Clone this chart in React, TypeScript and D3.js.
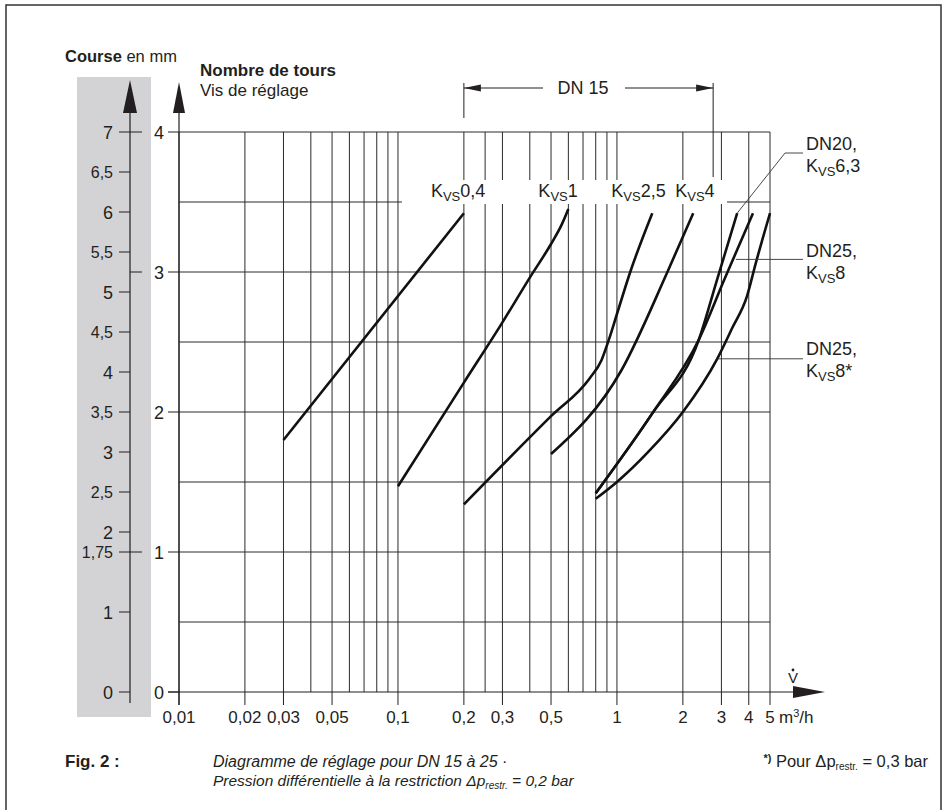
import React from "react";
import * as d3 from "d3";

// flow axis (m³/h, log)
const flowGrid = [0.01, 0.02, 0.03, 0.04, 0.05, 0.06, 0.07, 0.08, 0.09, 0.1, 0.2, 0.25, 0.3, 0.4, 0.5, 0.6, 0.7, 0.8, 0.9, 1, 2, 3, 4, 5];
const flowTicks = [0.01, 0.02, 0.03, 0.05, 0.1, 0.2, 0.3, 0.5, 1, 2, 3, 4, 5];
const flowTickLabels = ["0,01", "0,02", "0,03", "0,05", "0,1", "0,2", "0,3", "0,5", "1", "2", "3", "4", "5"];

// turns of the adjusting screw
const turnsGrid = [0.5, 1, 1.5, 2, 2.5, 3, 3.5, 4];
const turnsTicks = [0, 1, 2, 3, 4];

// travel in mm
const courseTicks = [7, 6.5, 6, 5.5, 5, 4.5, 4, 3.5, 3, 2.5, 2, 1.75, 1, 0];
const courseLabels = ["7", "6,5", "6", "5,5", "5", "4,5", "4", "3,5", "3", "2,5", "2", "1,75", "1", "0"];
const courseMajor = [7, 6, 5, 4, 3, 2, 1, 0];

// curves: [flow, turns]
const kvs04 = [[0.03, 1.8], [0.2, 3.42]];
const kvs1 = [[0.1, 1.47], [0.2, 2.21], [0.3, 2.64], [0.4, 2.96], [0.5, 3.2], [0.56, 3.34], [0.6, 3.45]];
const kvs25 = [[0.2, 1.34], [0.5, 1.97], [0.75, 2.24], [0.85, 2.37], [0.92, 2.52], [1, 2.7], [1.15, 3.0], [1.45, 3.42]];
const kvs4 = [[0.5, 1.7], [1.05, 2.3], [1.7, 3.0], [2.23, 3.42]];
const dn20kvs63 = [[0.8, 1.42], [1.45, 1.99], [2.37, 2.52], [2.86, 2.94], [3.54, 3.42]];
const dn25kvs8 = [[0.8, 1.42], [1.45, 1.99], [2.37, 2.52], [3.1, 2.95], [4.18, 3.42]];
const dn25kvs8s = [[0.8, 1.38], [1, 1.5], [1.4, 1.72], [2, 2.0], [2.87, 2.38], [3.36, 2.6], [3.93, 2.83], [4.3, 3.06], [5, 3.42]];

const topLabels = ["0,4", "1", "2,5", "4"];
const topCurves = [kvs04, kvs1, kvs25, kvs4];
const sideLabels = [["DN20,", "6,3"], ["DN25,", "8"], ["DN25,", "8*"]];
const sideCurves = [dn20kvs63, dn25kvs8, dn25kvs8s];
const dn15Range = [0.2, 2.75];

const font = "'Liberation Sans', Arial, sans-serif";
const ink = "#231f20";

export default function App() {
  const x = d3.scaleLog().domain([0.01, 5]).range([179, 770]);
  const y = d3.scaleLinear().domain([0, 4]).range([692, 132]);
  const yc = d3.scaleLinear().domain([0, 7]).range([692, 132]);
  const line = d3.line<number[]>()
    .x(d => x(d[0]))
    .y(d => y(d[1]))
    .curve(d3.curveMonotoneX);

  const topLabelShift = [33, 30, 41, 18];
  const sideLabelY = [150, 257, 355];
  // where the thin leader lines touch the curves
  const leaderTouch = [dn20kvs63[dn20kvs63.length - 1], [3.49, 3.09], [2.87, 2.38]];

  return (
    <div style={{ position: "absolute", left: 0, top: 0 }}>
      <svg width={945} height={810} style={{ display: "block", fontFamily: font }}>
        <rect x={0} y={0} width={945} height={810} fill="#fff" />
        <rect x={6} y={5} width={935} height={830} fill="none" stroke="#333" strokeWidth={1.5} />

        {/* travel axis */}
        <rect x={77} y={77} width={74} height={640} fill="#d3d3d5" />
        <line x1={130} x2={130} y1={110} y2={703} stroke={ink} strokeWidth={1.2} />
        <path d="M130,80 L137,113 L123,113 Z" fill={ink} />
        {courseTicks.map((v, i) => {
          const major = courseMajor.includes(v);
          const long = v === 7 || v === 1.75;
          return (
            <g key={"c" + i}>
              <line x1={119} x2={long ? 142 : 130} y1={yc(v)} y2={yc(v)} stroke={ink} strokeWidth={1} />
              <text x={113} y={yc(v) + (major ? 6.5 : 5.5)} textAnchor="end" fontSize={major ? 18 : 16} fill={ink}>{courseLabels[i]}</text>
            </g>
          );
        })}
        <line x1={130} x2={142} y1={yc(5.25)} y2={yc(5.25)} stroke={ink} strokeWidth={1} />
        <text x={65} y={62} fontSize={16.5} fill={ink}>
          <tspan fontWeight="bold">Course</tspan> en mm
        </text>

        {/* grid */}
        {flowGrid.map((v, i) => (
          <line key={"gx" + i} x1={x(v)} x2={x(v)} y1={y(4)} y2={y(0)} stroke="#2a2a2a" strokeWidth={1} />
        ))}
        {turnsGrid.map((v, i) => (
          <line key={"gy" + i} x1={x(0.01)} x2={x(5)} y1={y(v)} y2={y(v)} stroke="#2a2a2a" strokeWidth={1} />
        ))}
        {/* label band */}
        <rect x={402} y={180} width={325} height={24} fill="#fff" />

        {/* curves */}
        {[...topCurves, ...sideCurves].map((c, i) => (
          <path key={"k" + i} d={line(c) || ""} fill="none" stroke="#111" strokeWidth={2.6} strokeLinecap="butt" strokeLinejoin="round" />
        ))}

        {/* top curve labels */}
        {topCurves.map((c, i) => {
          const end = c[c.length - 1];
          return (
            <text key={"tl" + i} x={x(end[0]) - topLabelShift[i]} y={197} fontSize={18} fill={ink}>
              K<tspan fontSize={13} dy={4}>VS</tspan><tspan dy={-4}>{topLabels[i]}</tspan>
            </text>
          );
        })}

        {/* side labels and leaders */}
        {sideCurves.map((c, i) => {
          const t = leaderTouch[i];
          const ly = i === 0 ? 153 : y(t[1]);
          const pts = i === 0
            ? `${x(t[0])},${y(t[1])} 785,${ly} 803,${ly}`
            : `${x(t[0])},${ly} 803,${ly}`;
          return (
            <g key={"sl" + i}>
              <polyline points={pts} fill="none" stroke="#333" strokeWidth={0.9} />
              <text x={806} y={sideLabelY[i]} fontSize={18} fill={ink}>{sideLabels[i][0]}</text>
              <text x={806} y={sideLabelY[i] + 22} fontSize={18} fill={ink}>
                K<tspan fontSize={13} dy={4}>VS</tspan><tspan dy={-4}>{sideLabels[i][1]}</tspan>
              </text>
            </g>
          );
        })}

        {/* DN 15 bracket */}
        <g stroke={ink} strokeWidth={1}>
          <line x1={x(dn15Range[0])} x2={x(dn15Range[0])} y1={83} y2={118} />
          <line x1={x(dn15Range[1])} x2={x(dn15Range[1])} y1={83} y2={177} />
          <line x1={x(dn15Range[0])} x2={543} y1={88} y2={88} />
          <line x1={625} x2={x(dn15Range[1])} y1={88} y2={88} />
        </g>
        <path d={`M${x(dn15Range[0])},88 l17,-3.5 l0,7 Z`} fill={ink} />
        <path d={`M${x(dn15Range[1])},88 l-17,-3.5 l0,7 Z`} fill={ink} />
        <text x={583} y={94} textAnchor="middle" fontSize={18} fill={ink}>DN 15</text>

        {/* turns axis */}
        <line x1={179} x2={179} y1={110} y2={705} stroke={ink} strokeWidth={1.2} />
        <path d="M179,82 L185,113 L173,113 Z" fill={ink} />
        {turnsTicks.map(v => (
          <g key={"t" + v}>
            <line x1={168} x2={179} y1={y(v)} y2={y(v)} stroke={ink} strokeWidth={1} />
            <text x={164} y={y(v) + 6.5} textAnchor="end" fontSize={18} fill={ink}>{v}</text>
          </g>
        ))}
        <text x={200} y={76} fontSize={17} fontWeight="bold" fill={ink}>Nombre de tours</text>
        <text x={200} y={96} fontSize={17} fill={ink}>Vis de réglage</text>

        {/* flow axis */}
        <line x1={168} x2={800} y1={y(0)} y2={y(0)} stroke={ink} strokeWidth={1.2} />
        <path d={`M793,${y(0) - 6} L825,${y(0)} L793,${y(0) + 6} Z`} fill={ink} />
        {flowTicks.map((v, i) => (
          <g key={"f" + i}>
            <line x1={x(v)} x2={x(v)} y1={y(0)} y2={705} stroke={ink} strokeWidth={1} />
            <text x={x(v)} y={723} textAnchor="middle" fontSize={17} fill={ink}>{flowTickLabels[i]}</text>
          </g>
        ))}
        <text x={779} y={723} fontSize={17} fill={ink}>m<tspan fontSize={11} dy={-6}>3</tspan><tspan dy={6}>/h</tspan></text>
        <text x={793} y={683} textAnchor="middle" fontSize={15} fill={ink}>V</text>
        <circle cx={793} cy={670} r={1.4} fill={ink} />

        {/* caption */}
        <text x={65} y={767} fontSize={17} fontWeight="bold" fill={ink}>Fig. 2 :</text>
        <text x={213} y={767} fontSize={16} fontStyle="italic" fill={ink}>Diagramme de réglage pour DN 15 à 25 ·</text>
        <text x={213} y={786} fontSize={15.5} fontStyle="italic" fill={ink}>
          Pression différentielle à la restriction Δp<tspan fontSize={10} dy={3}>restr.</tspan><tspan dy={-3}> = 0,2 bar</tspan>
        </text>
        <text x={928} y={767} textAnchor="end" fontSize={16.5} fill={ink}>
          <tspan fontSize={11} fontWeight="bold" dy={-5}>*)</tspan><tspan dy={5}> Pour Δp</tspan><tspan fontSize={10} dy={3}>restr.</tspan><tspan dy={-3}> = 0,3 bar</tspan>
        </text>
      </svg>
    </div>
  );
}
